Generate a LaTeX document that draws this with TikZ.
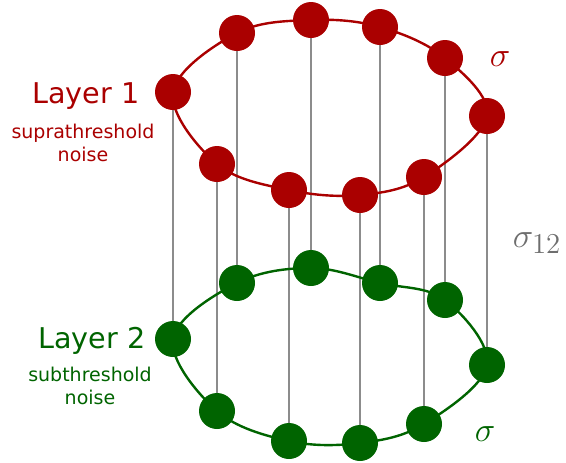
\documentclass[tikz,border=0pt]{standalone}
\usepackage{fontspec}
\setmainfont{DejaVu Sans}
\usetikzlibrary{backgrounds}
\definecolor{layerred}{RGB}{170,0,0}
\definecolor{layergreen}{RGB}{0,100,0}
\definecolor{linkgray}{RGB}{140,140,140}
\definecolor{labelgray}{RGB}{110,110,110}
\begin{document}
\begin{tikzpicture}[x=0.5pt,y=-0.5pt,
    neuron/.style={circle,fill=#1,inner sep=0pt,minimum size=18pt},
    ring/.style={draw=#1,line width=1.2pt},
    link/.style={draw=linkgray,line width=1.1pt},
    layer/.style={text=#1,anchor=base,font=\fontsize{14.3}{17}\selectfont},
    noise/.style={text=#1,align=center,font=\fontsize{9.5}{11.5}\selectfont},
    coupling/.style={text=#1,font=\fontsize{19}{22}\selectfont}]
    \useasboundingbox (0,0) rectangle (566,462);
    % neurons of both layers, one above the other
    \foreach \i/\x/\ya/\yb in {1/173/92/339, 2/237/33/283, 3/311/20/268,
        4/380/27/283, 5/445/58/300, 6/487/116/365, 7/424/177/424,
        8/360/195/443, 9/289/190/441, 10/217/164/411} {
        \node[neuron=layerred] (r\i) at (\x,\ya) {};
        \node[neuron=layergreen] (g\i) at (\x,\yb) {};
    }
    \begin{pgfonlayer}{background}
        \foreach \i in {1,...,10}
            \draw[link] (r\i.center) -- (g\i.center);
        \draw[ring=layerred] plot[smooth cycle,tension=0.6] coordinates {(r1.center) (r2.center)
            (r3.center) (r4.center) (r5.center) (r6.center) (r7.center)
            (r8.center) (r9.center) (r10.center)};
        \draw[ring=layergreen] plot[smooth cycle,tension=0.6] coordinates {(g1.center) (g2.center)
            (g3.center) (g4.center) (g5.center) (g6.center) (g7.center)
            (g8.center) (g9.center) (g10.center)};
    \end{pgfonlayer}
    % labels
    \node[layer=layerred] (lay1) at (86,103) {Layer 1};
    \node[noise=layerred] (supra) at (83,143) {suprathreshold\\noise};
    \node[layer=layergreen] (lay2) at (92,348) {Layer 2};
    \node[noise=layergreen] (sub) at (90,386) {subthreshold\\noise};
    \node[coupling=layerred] (sig1) at (500,59) {$\sigma$};
    \node[coupling=layergreen] (sig2) at (485,434) {$\sigma$};
    \node[coupling=labelgray] (sig12) at (537,243) {$\sigma_{12}$};
\end{tikzpicture}
\end{document}
